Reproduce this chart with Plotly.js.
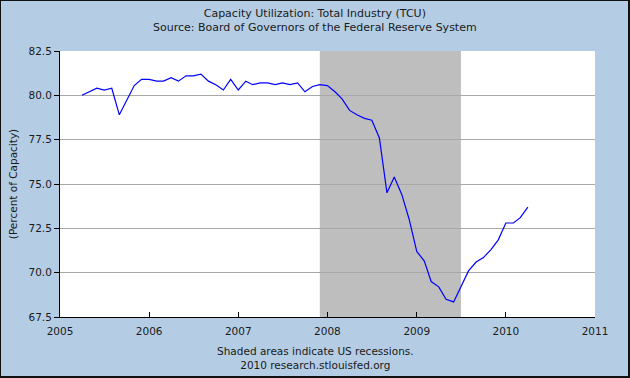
<!DOCTYPE html>
<html>
<head>
<meta charset="utf-8">
<script src="https://cdn.plot.ly/plotly-3.0.1.min.js"></script>
<style>
  html, body { margin: 0; padding: 0; background: #B4CDE4; }
  #wrap { width: 630px; height: 378px; box-sizing: border-box; border: 1px solid #111; border-right-width: 2px; border-bottom-width: 2px; background: #B4CDE4; }
  #chart { width: 627px; height: 375px; }
</style>
</head>
<body>
<div id="wrap"><div id="chart"></div></div>
<script>
const months = [
  '2005-04-01','2005-05-01','2005-06-01','2005-07-01','2005-08-01','2005-09-01','2005-10-01','2005-11-01','2005-12-01',
  '2006-01-01','2006-02-01','2006-03-01','2006-04-01','2006-05-01','2006-06-01','2006-07-01','2006-08-01','2006-09-01','2006-10-01','2006-11-01','2006-12-01',
  '2007-01-01','2007-02-01','2007-03-01','2007-04-01','2007-05-01','2007-06-01','2007-07-01','2007-08-01','2007-09-01','2007-10-01','2007-11-01','2007-12-01',
  '2008-01-01','2008-02-01','2008-03-01','2008-04-01','2008-05-01','2008-06-01','2008-07-01','2008-08-01','2008-09-01','2008-10-01','2008-11-01','2008-12-01',
  '2009-01-01','2009-02-01','2009-03-01','2009-04-01','2009-05-01','2009-06-01','2009-07-01','2009-08-01','2009-09-01','2009-10-01','2009-11-01','2009-12-01',
  '2010-01-01','2010-02-01','2010-03-01','2010-04-01'
];
const tcu = [
  80.0, 80.2, 80.4, 80.3, 80.4, 78.9, 79.7, 80.55, 80.9,
  80.9, 80.8, 80.8, 81.0, 80.8, 81.1, 81.1, 81.2, 80.8, 80.6, 80.3, 80.9,
  80.3, 80.8, 80.6, 80.7, 80.7, 80.6, 80.7, 80.6, 80.7, 80.2, 80.5, 80.6,
  80.55, 80.2, 79.8, 79.15, 78.9, 78.7, 78.6, 77.6, 74.5, 75.4, 74.4, 73.0,
  71.2, 70.65, 69.5, 69.2, 68.5, 68.35, 69.2, 70.1, 70.6, 70.85, 71.3, 71.85,
  72.8, 72.8, 73.1, 73.7
];
const recessionStart = ['2007-12-01'];
const recessionEnd = ['2009-07-01'];
const yearTicks = ['2005-01-01','2006-01-01','2007-01-01','2008-01-01','2009-01-01','2010-01-01','2011-01-01'];
const yearLabels = ['2005','2006','2007','2008','2009','2010','2011'];
const yTicks = [67.5, 70.0, 72.5, 75.0, 77.5, 80.0, 82.5];

const FONT = 'DejaVu Sans, Verdana, sans-serif';
const shapes = recessionStart.map((s, i) => ({
  type: 'rect', xref: 'x', yref: 'paper', x0: s, x1: recessionEnd[i], y0: 0, y1: 1,
  fillcolor: '#BEBEBE', line: { width: 0 }, layer: 'between'
}));

const trace = {
  x: months, y: tcu, type: 'scatter', mode: 'lines',
  line: { color: '#0000FF', width: 1.2 }, hoverinfo: 'skip'
};

const layout = {
  width: 627, height: 375,
  margin: { l: 59, r: 33, t: 50, b: 59, pad: 0 },
  paper_bgcolor: '#B4CDE4', plot_bgcolor: '#FFFFFF',
  font: { family: FONT, size: 10, color: '#1a1a1a' },
  showlegend: false,
  annotations: [
    {
      text: 'Capacity Utilization: Total Industry (TCU)<br>Source: Board of Governors of the Federal Reserve System',
      xref: 'paper', yref: 'paper', x: 0.477, y: 1.173,
      xanchor: 'center', yanchor: 'top', showarrow: false,
      font: { family: FONT, size: 11, color: '#1a1a1a' }
    },
    {
      text: 'Shaded areas indicate US recessions.<br>2010 research.stlouisfed.org',
      xref: 'paper', yref: 'paper', x: 0.477, y: -0.098,
      xanchor: 'center', yanchor: 'top', showarrow: false,
      font: { family: FONT, size: 10.5, color: '#1a1a1a' }
    }
  ],
  xaxis: {
    type: 'date', range: ['2005-01-01', '2011-01-01'],
    tickmode: 'array', tickvals: yearTicks, ticktext: yearLabels,
    ticks: 'inside', ticklen: 5, tickcolor: '#000', tickwidth: 1,
    ticklabelstandoff: 4,
    showline: true, linecolor: '#000', linewidth: 1,
    showgrid: false, zeroline: false, fixedrange: true,
    tickfont: { family: FONT, size: 10.5, color: '#1a1a1a' }
  },
  yaxis: {
    range: [67.5, 82.5], tickmode: 'array', tickvals: yTicks,
    tickformat: '.1f',
    ticks: 'outside', ticklen: 5, tickcolor: '#000', tickwidth: 1,
    showline: true, linecolor: '#000', linewidth: 1,
    showgrid: true, gridcolor: '#A8A8A8', gridwidth: 1,
    zeroline: false, fixedrange: true,
    tickfont: { family: FONT, size: 10.5, color: '#1a1a1a' },
    title: { text: '(Percent of Capacity)', font: { family: FONT, size: 10.5, color: '#1a1a1a' }, standoff: 8 }
  },
  shapes: shapes
};

Plotly.newPlot('chart', [trace], layout, { displayModeBar: false, staticPlot: true });
</script>
</body>
</html>
